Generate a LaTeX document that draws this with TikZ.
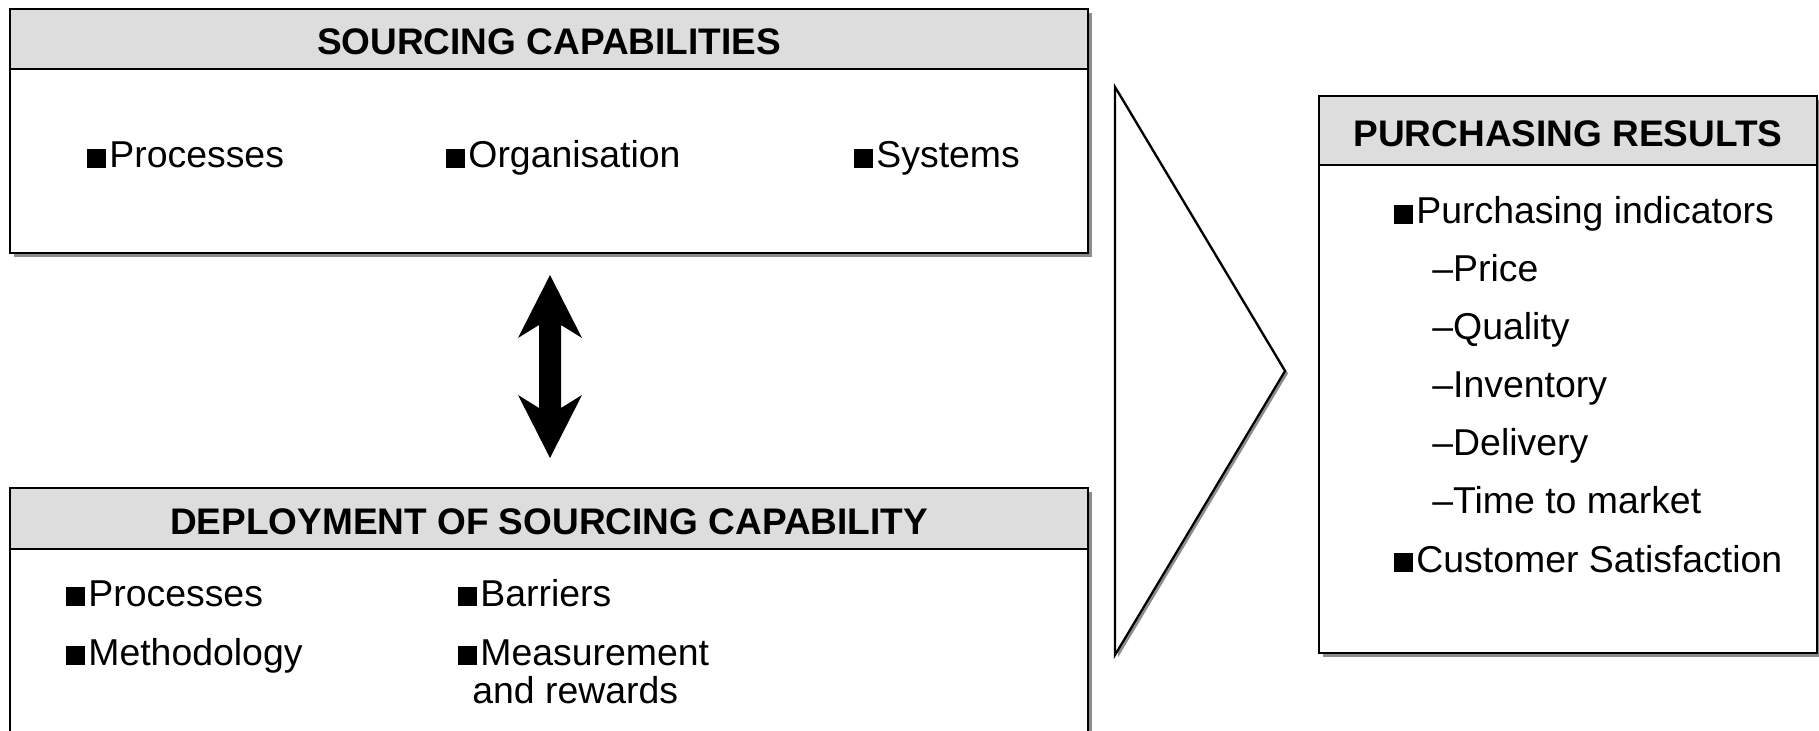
\documentclass[tikz,border=0pt]{standalone}
\usepackage{fontspec}
\setmainfont{Liberation Sans}
\usetikzlibrary{shadows}
\newcommand\mybullet{\rule{9.5pt}{9.5pt}\kern1.5pt}
\definecolor{hdrgray}{HTML}{DDDDDD}
\definecolor{shadowgray}{HTML}{8C8C8C}
\begin{document}
\begin{tikzpicture}[x=0.5pt,y=-0.5pt,
  panel/.style={draw=black, line width=1.25pt, fill=white, inner sep=0pt,
    drop shadow={shadow xshift=2.2pt, shadow yshift=-2.2pt, fill=shadowgray, opacity=1}},
  hdrbox/.style={draw=black, line width=1.25pt, fill=hdrgray, inner sep=0pt},
  hdrtext/.style={font=\bfseries\fontsize{18.5}{22}\selectfont, anchor=base, inner sep=0pt},
  item/.style={font=\fontsize{18.7}{22}\selectfont, anchor=base west, inner sep=0pt},
  chevron/.style={draw=black, line width=1.1pt, fill=white,
    drop shadow={shadow xshift=1.5pt, shadow yshift=-1.2pt, fill=shadowgray, opacity=1}},
  bigarrow/.style={fill=black}]
\useasboundingbox (0,0) rectangle (1819,731);
\clip (0,0) rectangle (1819,731);

% top panel
\node[panel, minimum width=539pt, minimum height=122pt] (sc) at (549,131) {};
\node[hdrbox, minimum width=539pt, minimum height=30pt] (schdr) at (549,39) {};
\node[hdrtext] (sct) at (549,55) {SOURCING CAPABILITIES};
\node[item] (sc1) at (87,168) {\mybullet Processes};
\node[item] (sc2) at (446,168) {\mybullet Organisation};
\node[item] (sc3) at (854,168) {\mybullet Systems};

% bottom panel
\node[panel, minimum width=539pt, minimum height=156pt] (dp) at (549,644) {};
\node[hdrbox, minimum width=539pt, minimum height=30.5pt] (dphdr) at (549,518.5) {};
\node[hdrtext] (dpt) at (549,534.5) {DEPLOYMENT OF SOURCING CAPABILITY};
\node[item] (dp1) at (66,606) {\mybullet Processes};
\node[item] (dp2) at (66,665) {\mybullet Methodology};
\node[item] (dp3) at (458,606) {\mybullet Barriers};
\node[item] (dp4) at (458,665) {\mybullet Measurement};
\node[item] (dp5) at (472,703) {and rewards};

% right panel
\node[panel, minimum width=249pt, minimum height=278.5pt] (pr) at (1568,374.5) {};
\node[hdrbox, minimum width=249pt, minimum height=34.5pt] (prhdr) at (1568,130.5) {};
\node[hdrtext] (prt) at (1568,147) {PURCHASING RESULTS};
\node[item] (pr1) at (1394,224) {\mybullet Purchasing indicators};
\node[item] (pr2) at (1432,282) {–Price};
\node[item] (pr3) at (1432,340) {–Quality};
\node[item] (pr4) at (1432,398) {–Inventory};
\node[item] (pr5) at (1432,456) {–Delivery};
\node[item] (pr6) at (1432,514) {–Time to market};
\node[item] (pr7) at (1394,572) {\mybullet Customer Satisfaction};

% chevron
\path[chevron] (1115,87) -- (1285,371) -- (1115,655) -- cycle;

% double block arrow
\coordinate (atop) at (550,275);
\coordinate (abot) at (550,458);
\path[bigarrow] (atop) -- (582,338) -- (561,325) -- (561,408) -- (582,395)
  -- (abot) -- (518,395) -- (539,408) -- (539,325) -- (518,338) -- cycle;
\end{tikzpicture}
\end{document}
